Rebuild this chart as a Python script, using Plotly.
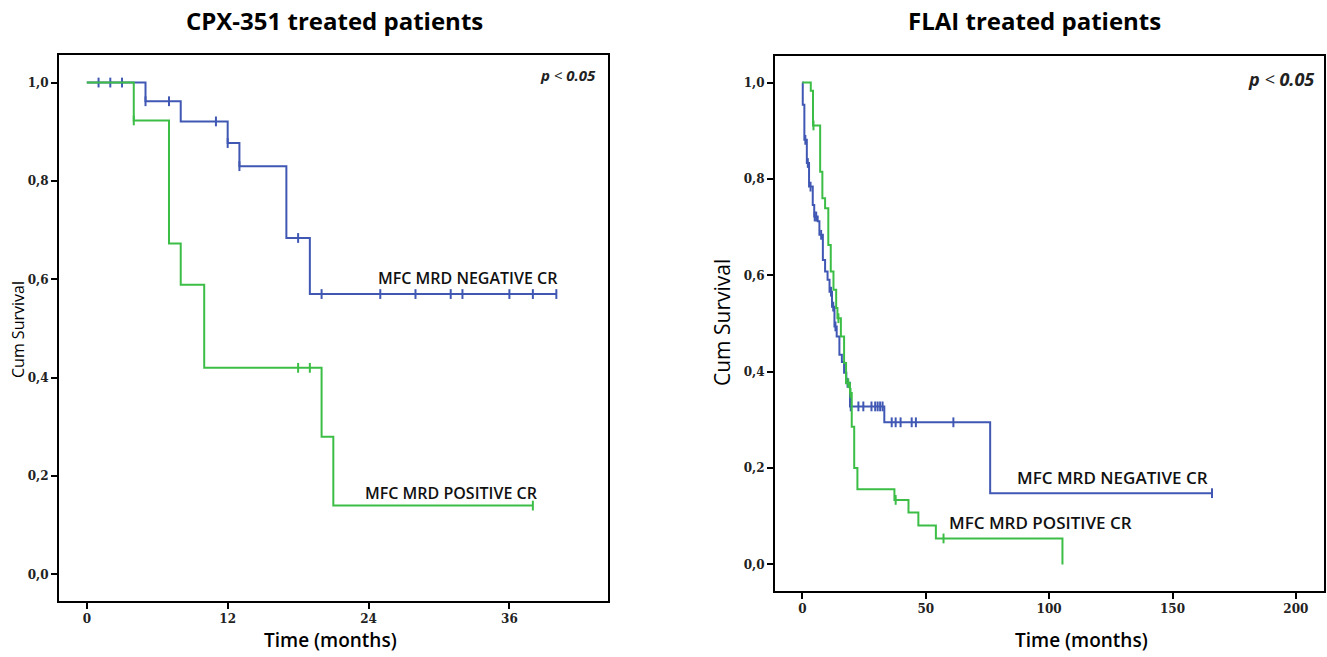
import plotly.graph_objects as go

# ---------------- data ----------------
# Left panel: CPX-351 treated patients (time in months, cumulative survival)
cpx_neg_event_t = [5, 8, 12, 13, 17, 19]
cpx_neg_event_s = [0.962, 0.921, 0.877, 0.830, 0.684, 0.570]
cpx_neg_end = 40
cpx_neg_censor_t = [1, 2, 3, 5, 7, 11, 12, 13, 18, 20, 25, 28, 31, 32, 36, 38, 40]

cpx_pos_event_t = [4, 7, 8, 10, 20, 21]
cpx_pos_event_s = [0.923, 0.673, 0.589, 0.420, 0.280, 0.140]
cpx_pos_end = 38
cpx_pos_censor_t = [4, 18, 19, 38]

# Right panel: FLAI treated patients
flai_neg_event_t = [0.15, 0.8, 1.8, 2.7, 4.2, 4.8, 6.2, 6.9, 8.3, 9.2, 10.2, 11.0, 12.0,
                    13.0, 13.9, 15.0, 16.0, 16.9, 17.8, 19.3, 33.2, 76.1]
flai_neg_event_s = [0.954, 0.881, 0.833, 0.784, 0.746, 0.722, 0.712, 0.684, 0.632, 0.608,
                    0.591, 0.566, 0.535, 0.494, 0.473, 0.435, 0.420, 0.398, 0.377, 0.328,
                    0.295, 0.148]
flai_neg_end = 166
flai_neg_censor_t = [1.2, 2.2, 3.3, 5.0, 5.6, 7.6, 11.6, 12.5, 13.4, 18.3, 19.6, 22.7, 24.7,
                     28.0, 29.5, 30.5, 31.5, 32.5, 36.2, 37.8, 39.8, 44.3, 46.0, 61.2, 166]

flai_pos_event_t = [3.4, 4.3, 7.2, 8.1, 9.2, 10.5, 11.5, 12.6, 13.7, 14.2, 15.6, 16.9, 17.7,
                    19.3, 20.0, 21.0, 22.3, 37.3, 43.0, 47.0, 54.1, 105.4]
flai_pos_event_s = [0.983, 0.911, 0.815, 0.760, 0.739, 0.663, 0.608, 0.570, 0.532, 0.511,
                    0.473, 0.418, 0.376, 0.356, 0.286, 0.200, 0.156, 0.134, 0.108, 0.081,
                    0.054, 0.0]
flai_pos_end = 105.4
flai_pos_censor_t = [4.5, 14.6, 18.6, 19.5, 37.8, 57.2]

y_ticks = [0.0, 0.2, 0.4, 0.6, 0.8, 1.0]
y_tick_text = ["0,0", "0,2", "0,4", "0,6", "0,8", "1,0"]
cpx_x_ticks = [0, 12, 24, 36]
flai_x_ticks = [0, 50, 100, 150, 200]

BLUE = "#4058B4"
GREEN = "#3CBE46"


def step_xy(ev_t, ev_s, end):
    xs = [0] + list(ev_t) + [end]
    ys = [1.0] + list(ev_s) + [ev_s[-1]]
    return xs, ys


def surv_at(t, ev_t, ev_s):
    s = 1.0
    for et, es in zip(ev_t, ev_s):
        if et <= t:
            s = es
    return s


fig = go.Figure()


def add_curve(ev_t, ev_s, end, cens, color, xa, ya):
    xs, ys = step_xy(ev_t, ev_s, end)
    fig.add_trace(go.Scatter(x=xs, y=ys, mode="lines", line=dict(color=color, width=2, shape="hv"),
                             xaxis=xa, yaxis=ya, showlegend=False, hoverinfo="skip"))
    fig.add_trace(go.Scatter(x=cens, y=[surv_at(t, ev_t, ev_s) for t in cens], mode="markers",
                             marker=dict(symbol="line-ns", size=7, line=dict(color=color, width=2)),
                             xaxis=xa, yaxis=ya, showlegend=False, hoverinfo="skip"))


add_curve(cpx_neg_event_t, cpx_neg_event_s, cpx_neg_end, cpx_neg_censor_t, BLUE, "x", "y")
add_curve(cpx_pos_event_t, cpx_pos_event_s, cpx_pos_end, cpx_pos_censor_t, GREEN, "x", "y")
add_curve(flai_neg_event_t, flai_neg_event_s, flai_neg_end, flai_neg_censor_t, BLUE, "x2", "y2")
add_curve(flai_pos_event_t, flai_pos_event_s, flai_pos_end, flai_pos_censor_t, GREEN, "x2", "y2")

W, H = 1327, 657
tickfont = dict(family="DejaVu Serif", size=12, color="#222", weight="bold")
axcommon = dict(showline=True, mirror=True, linecolor="black", linewidth=2, showgrid=False,
                zeroline=False, ticks="outside", ticklen=6, tickwidth=1.5, tickcolor="black",
                tickfont=tickfont, automargin=False, fixedrange=True)

fig.update_layout(
    width=W, height=H,
    margin=dict(l=0, r=0, t=0, b=0),
    paper_bgcolor="white", plot_bgcolor="white",
    xaxis=dict(domain=[59 / W, 608 / W], range=[-2.37, 44.4], tickvals=cpx_x_ticks,
               anchor="y", **axcommon),
    yaxis=dict(domain=[(H - 601) / H, (H - 55) / H], range=[-0.054, 1.056], tickvals=y_ticks,
               ticktext=y_tick_text, anchor="x", **axcommon),
    xaxis2=dict(domain=[775 / W, 1324 / W], range=[-11.1, 211.4], tickvals=flai_x_ticks,
                anchor="y2", **axcommon),
    yaxis2=dict(domain=[(H - 591) / H, (H - 56) / H], range=[-0.055, 1.055], tickvals=y_ticks,
                ticktext=y_tick_text, anchor="x2", **axcommon),
)


def pa(text, x, y, font, **kw):
    d = dict(text=text, x=x / W, y=1 - y / H, xref="paper", yref="paper", showarrow=False,
             xanchor="center", yanchor="middle", font=font)
    d.update(kw)
    return d


lab_font = dict(family="Open Sans", size=16, color="#111", weight=600)
lab_font_r = dict(family="Open Sans", size=17, color="#111", weight=600)
title_font = dict(family="Open Sans", size=24, color="black", weight="bold")
ann = [
    pa("CPX-351 treated patients", 335, 20, title_font),
    pa("FLAI treated patients", 1034, 20, title_font),
    pa("Time (months)", 330, 640, dict(family="Open Sans", size=19, color="black", weight=600)),
    pa("Time (months)", 1081, 640, dict(family="Open Sans", size=19, color="black", weight=600)),
    pa("Cum Survival", 18, 330, dict(family="Open Sans", size=16, color="black"), textangle=-90),
    pa("Cum Survival", 722, 323, dict(family="Open Sans", size=21, color="black"), textangle=-90),
    dict(text="MFC MRD NEGATIVE CR", x=40.3, y=0.603, xref="x", yref="y", xanchor="right",
         yanchor="middle", showarrow=False, font=lab_font),
    dict(text="MFC MRD POSITIVE CR", x=38.6, y=0.166, xref="x", yref="y", xanchor="right",
         yanchor="middle", showarrow=False, font=lab_font),
    dict(text="MFC MRD NEGATIVE CR", x=165, y=0.181, xref="x2", yref="y2", xanchor="right",
         yanchor="middle", showarrow=False, font=lab_font_r),
    dict(text="MFC MRD POSITIVE CR", x=134.4, y=0.0865, xref="x2", yref="y2", xanchor="right",
         yanchor="middle", showarrow=False, font=lab_font_r),
    pa("<b><i>p</i></b><i> &lt; </i><b><i>0.05</i></b>", 598, 75,
       dict(family="Open Sans", size=15, color="#222"), xanchor="right"),
    pa("<b><i>p</i></b><i> &lt; </i><b><i>0.05</i></b>", 1316, 79,
       dict(family="Open Sans", size=18, color="#222"), xanchor="right"),
]
fig.update_layout(annotations=ann)

fig.write_html("out.html", config={"displayModeBar": False},
               post_script="document.body.style.margin='0';")
